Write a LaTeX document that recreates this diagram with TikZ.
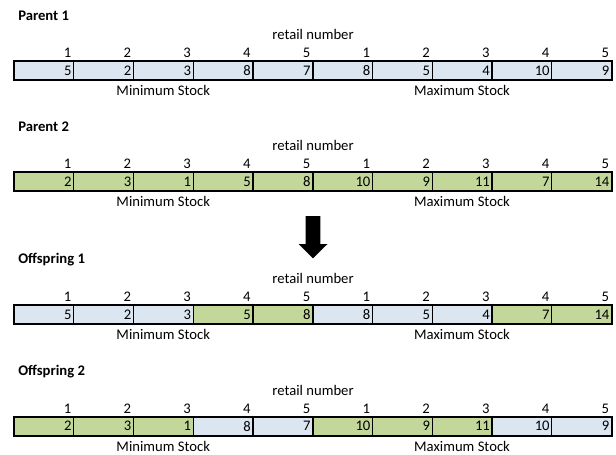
\documentclass[tikz,border=0pt]{standalone}
\usepackage{fontspec}
\setmainfont{Carlito}
\usetikzlibrary{calc}
\definecolor{pA}{HTML}{DCE6F1}
\definecolor{pB}{HTML}{C4D79B}

\begin{document}
\begin{tikzpicture}[
  x=0.75pt, y=-0.75pt, font=\fontsize{11}{13}\selectfont,
  cell/.style={draw, line width=0.6pt, anchor=north west, minimum height=13.9pt,
               text width=41.8pt, inner xsep=1.5pt, inner ysep=0pt, align=right},
  idx/.style={anchor=base east, inner sep=0pt},
  title/.style={anchor=west, inner sep=0pt, font=\fontsize{11}{13}\selectfont\bfseries},
  caption/.style={inner sep=0pt},
  frame/.style={line width=1.5pt},
]
\useasboundingbox (0,0) rectangle (616,454);

% chromosomes: name / title / top of bar / genes
\foreach \b/\t/\y/\g in {
    p1/Parent 1/61/{5/pA,2/pA,3/pA,8/pA,7/pA,8/pA,5/pA,4/pA,10/pA,9/pA},
    p2/Parent 2/172/{2/pB,3/pB,1/pB,5/pB,8/pB,10/pB,9/pB,11/pB,7/pB,14/pB},
    o1/Offspring 1/305/{5/pA,2/pA,3/pA,5/pB,8/pB,8/pA,5/pA,4/pA,7/pB,14/pB},
    o2/Offspring 2/416.5/{2/pB,3/pB,1/pB,8/pA,7/pA,10/pB,9/pB,11/pB,10/pA,9/pA}} {
  \node[title] (\b) at (18,\y-45) {\t};
  \foreach \v/\c [count=\i] in \g
    \node[cell, fill=\c] (\b c\i) at ({13.5+(\i-1)*59.75},\y) {\v};
  \foreach \i [evaluate=\i as \n using {int(mod(\i-1,5)+1)}] in {1,...,10}
    \node[idx] (\b i\i) at ($(\b c\i.north east)+(-2.5,-3.4)$) {\n};
  \draw[frame] (\b c1.north west) rectangle (\b c10.south east);
  \draw[frame] (\b c5.north east) -- (\b c5.south east);
  \node[caption] (\b r) at ($(\b c5.north east)+(0,-26.5)$) {retail number};
  \node[caption] (\b min) at ($(\b c3.south)+(0,10.5)$) {Minimum Stock};
  \node[caption] (\b max) at ($(\b c8.south)+(0,10.5)$) {Maximum Stock};
}

% crossover arrow
\coordinate (tip) at (313,258.3);
\fill (tip) -- ++(-14.5,-14.3) -- ++(7.2,0) -- ++(0,-28) -- ++(14.6,0)
  -- ++(0,28) -- ++(7.2,0) -- cycle;
\end{tikzpicture}
\end{document}
